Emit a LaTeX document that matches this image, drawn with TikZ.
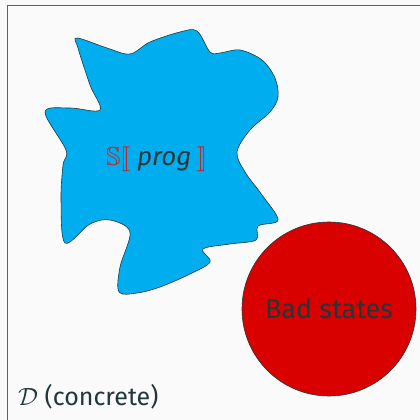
\documentclass[tikz,border=0pt]{standalone}
\usepackage{amssymb}
\usepackage{stmaryrd}
\usepackage{fontspec}
\setmainfont{Fira Sans}
\definecolor{bgc}{HTML}{FAFAFA}
\definecolor{framec}{HTML}{56636A}
\definecolor{txt}{HTML}{23373B}
\definecolor{blobc}{HTML}{00ADEF}
\definecolor{badc}{HTML}{D90000}
\definecolor{semred}{HTML}{CC2020}
\tikzset{
  region/.style={draw=txt, line width=0.6pt},
  lbl/.style={text=txt, inner sep=0pt},
}
\begin{document}
\begin{tikzpicture}[x=1pt,y=-1pt]
\useasboundingbox (0,0) rectangle (420,420);
\fill[bgc] (0,0) rectangle (420,420);
\draw[framec, line width=1pt] (7,421) -- (7,6) -- (421,6);
\draw[region, fill=blobc] plot[smooth cycle, tension=0.55] coordinates {
(77,38) (107,48) (130,54) (150,42) (180,32) (197,31)
(210,52) (220,53) (240,50) (262,60) (275,78) (278,97) (270,112) (250,130)
(237,152) (245,172) (262,195) (278,220) (258,226) (256,240) (230,244)
(203,249) (210,262) (190,274) (160,287) (137,293) (119,292) (120,267)
(130,232) (110,220) (90,224) (65,243) (61,200) (63,165) (66,150)
(45,112) (70,108) (100,110) (90,85) (78,48)};
\node[region, fill=badc, circle, minimum size=174pt, inner sep=0pt] (bad) at (329,309) {};
\node[lbl, font=\fontsize{27}{32}\selectfont] (badlbl) at (bad.center) {Bad states};
\node[lbl, font=\fontsize{26}{30}\selectfont] (sem) at (157,159) {\textcolor{semred}{$\mathbb{S}\llbracket$}\hspace{0.25em}\textit{prog}\hspace{0.25em}\textcolor{semred}{$\rrbracket$}};
\node[lbl, anchor=base west, font=\fontsize{25}{30}\selectfont] (dom) at (18,405) {$\mathcal{D}$ (concrete)};
\end{tikzpicture}
\end{document}
